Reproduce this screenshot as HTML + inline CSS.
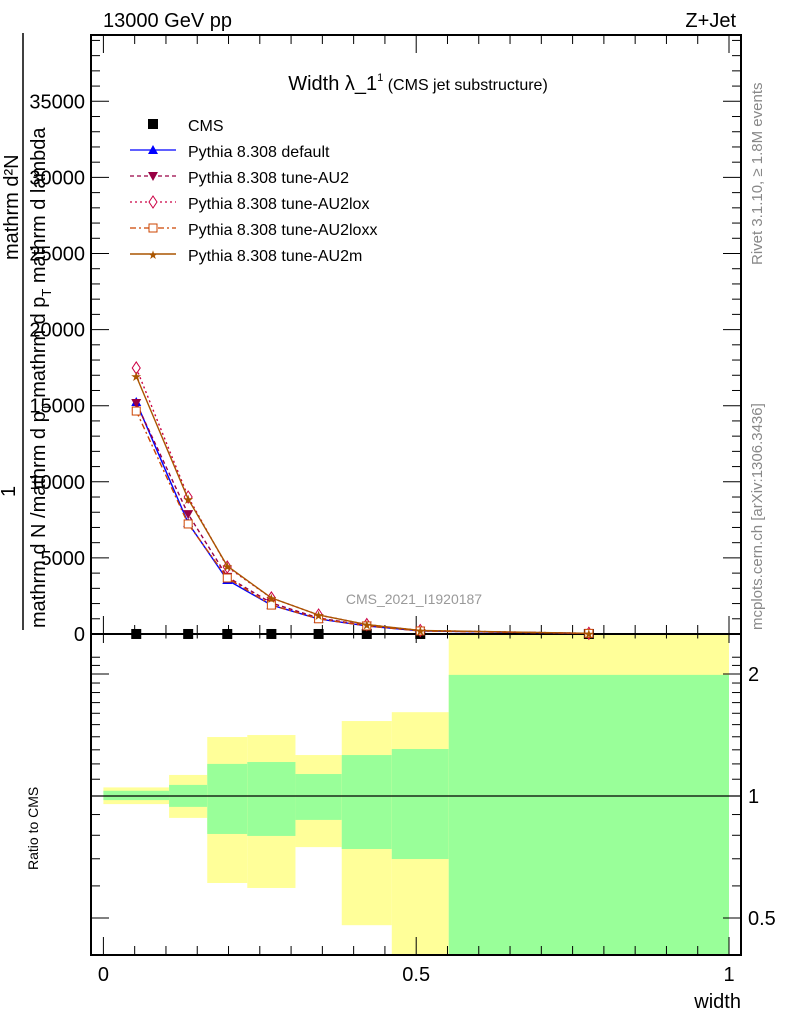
<!DOCTYPE html>
<html><head><meta charset="utf-8"><style>
body{margin:0;background:#fff;}
svg{display:block;font-family:"Liberation Sans",sans-serif;}
</style></head><body>
<svg id="chart" width="786" height="1024" viewBox="0 0 786 1024">
<g id="bands"></g>
<g id="grid"></g>
<g id="series"></g>
<text x="103" y="27" font-size="20">13000 GeV pp</text>
<text x="736" y="27" font-size="20" text-anchor="end">Z+Jet</text>
<text x="418" y="90" font-size="20" text-anchor="middle">Width λ_1<tspan font-size="11" dy="-9">1</tspan><tspan font-size="16" dy="9"> (CMS jet substructure)</tspan></text>
<text x="414" y="604" font-size="14" fill="#999" text-anchor="middle">CMS_2021_I1920187</text>
<text transform="translate(762,265) rotate(-90)" font-size="15" fill="#888">Rivet 3.1.10, ≥ 1.8M events</text>
<text transform="translate(762,630) rotate(-90)" font-size="15" fill="#888">mcplots.cern.ch [arXiv:1306.3436]</text>
<g>
<line x1="23" y1="33" x2="23" y2="630" stroke="#000" stroke-width="1.5"/>
<text transform="translate(18,260) rotate(-90)" font-size="20">mathrm d²N</text>
<text transform="translate(15,497) rotate(-90)" font-size="20">1</text>
<text transform="translate(45,628) rotate(-90)" font-size="20">mathrm d N /mathrm d p<tspan font-size="13" dy="6">T</tspan><tspan dy="-6"> mathrm d p</tspan><tspan font-size="13" dy="6">T</tspan><tspan dy="-6"> mathrm d lambda</tspan></text>
</g>
<text transform="translate(38,870) rotate(-90)" font-size="14">Ratio to CMS</text>
<text x="741" y="1008" font-size="20" text-anchor="end">width</text>
<g>
<rect x="148" y="119" width="10" height="10" fill="#000"/>
<text x="188" y="131" font-size="16">CMS</text>
<line x1="130" y1="150" x2="176" y2="150" stroke="#0000ff" stroke-width="1.3"/><path d="M148,154 L158,154 L153,145 Z" fill="#0000ff"/>
<text x="188" y="157" font-size="16">Pythia 8.308 default</text>
<line x1="130" y1="176" x2="176" y2="176" stroke="#990044" stroke-dasharray="4,3" stroke-width="1.3"/><path d="M148,172 L158,172 L153,181 Z" fill="#990044"/>
<text x="188" y="183" font-size="16">Pythia 8.308 tune-AU2</text>
<line x1="130" y1="202" x2="176" y2="202" stroke="#cc0044" stroke-dasharray="2,3" stroke-width="1.3"/><path d="M153,196 L157,202 L153,208 L149,202 Z" fill="#fff" stroke="#cc0044"/>
<text x="188" y="209" font-size="16">Pythia 8.308 tune-AU2lox</text>
<line x1="130" y1="228" x2="176" y2="228" stroke="#cc4400" stroke-dasharray="6,3,2,3" stroke-width="1.3"/><rect x="149" y="224" width="8" height="8" fill="#fff" stroke="#cc4400"/>
<text x="188" y="235" font-size="16">Pythia 8.308 tune-AU2loxx</text>
<line x1="130" y1="254" x2="176" y2="254" stroke="#aa5500" stroke-width="1.5"/><text x="153" y="259" font-size="12" fill="#aa5500" text-anchor="middle">★</text>
<text x="188" y="261" font-size="16">Pythia 8.308 tune-AU2m</text>
</g>
</svg>
<script>
const binEdges=[0,0.105,0.166,0.23,0.307,0.381,0.461,0.552,1.0];
const cmsValues=[1,1,1,1,1,1,1,1];
const defaultValues=[15240,7290,3550,1900,990,530,200,40];
const au2Values=[15180,7880,3750,2040,1050,560,210,40];
const au2loxValues=[17480,9000,4400,2370,1250,620,230,45];
const au2loxxValues=[14650,7230,3680,1900,1000,530,200,40];
const au2mValues=[16950,8870,4470,2370,1250,620,230,45];
const yellowHi=[1.05,1.127,1.398,1.414,1.262,1.531,1.61,5];
const yellowLo=[0.955,0.883,0.61,0.593,0.748,0.48,0.1,0.1];
const greenHi=[1.03,1.065,1.2,1.213,1.133,1.262,1.306,1.99];
const greenLo=[0.977,0.94,0.806,0.797,0.873,0.74,0.699,0.1];
const yTicks=[0,5000,10000,15000,20000,25000,30000,35000];
const xTicks=[0,0.5,1];
const rTicks=[0.5,1,2];

const NS='http://www.w3.org/2000/svg';
const L=91,R=741,T=35,MB=634,RB=955;
const X=v=>103.4+v*625.6;
const Y=v=>634-v*76.1/5000;
const RY=v=>Math.max(MB,Math.min(RB,796-Math.log2(v)*122));
function mk(tag,parent,attrs){const e=document.createElementNS(NS,tag);for(const k in attrs)e.setAttribute(k,attrs[k]);parent.appendChild(e);return e;}
const bands=document.getElementById('bands'),grid=document.getElementById('grid'),series=document.getElementById('series');

for(let i=0;i<binEdges.length-1;i++){
  const x0=X(binEdges[i]),x1=X(binEdges[i+1]);
  const y=mk('rect',bands,{x:x0,y:RY(yellowHi[i]),width:x1-x0,height:RY(yellowLo[i])-RY(yellowHi[i]),fill:'#ffff99'});
  
  
  const g=mk('rect',bands,{x:x0,y:RY(greenHi[i]),width:x1-x0,height:RY(greenLo[i])-RY(greenHi[i]),fill:'#99ff99'});
  
  
}
mk('line',grid,{x1:L,y1:796,x2:R,y2:796,stroke:'#000','stroke-width':1.2});
mk('rect',grid,{x:L,y:T,width:R-L,height:MB-T,fill:'none',stroke:'#000','stroke-width':2});
mk('rect',grid,{x:L,y:MB,width:R-L,height:RB-MB,fill:'none',stroke:'#000','stroke-width':2});
for(let v=0;v<=39000;v+=1000){const y=Y(v);if(y<T)break;const len=v%5000===0?18:9;
 mk('line',grid,{x1:L,y1:y,x2:L+len,y2:y,stroke:'#000'});mk('line',grid,{x1:R,y1:y,x2:R-len,y2:y,stroke:'#000'});}
yTicks.forEach(v=>{const t=mk('text',grid,{x:85,y:Y(v)+7,'font-size':20,'text-anchor':'end'});t.textContent=v;
 
 });
for(let v=0;v<=1.0001;v+=0.05){const x=X(v);const major=Math.abs(v*10-Math.round(v*10))<1e-6&&Math.round(v*10)%5===0;const len=major?18:9;
 mk('line',grid,{x1:x,y1:MB,x2:x,y2:MB-len,stroke:'#000'});mk('line',grid,{x1:x,y1:T,x2:x,y2:T+len,stroke:'#000'});
 mk('line',grid,{x1:x,y1:RB,x2:x,y2:RB-len,stroke:'#000'});mk('line',grid,{x1:x,y1:MB,x2:x,y2:MB+len/2,stroke:'#000'});}
xTicks.forEach(v=>{const t=mk('text',grid,{x:X(v),y:981,'font-size':20,'text-anchor':'middle'});t.textContent=v;
 
 });
[0.4,0.5,0.6,0.7,0.8,0.9,1,1.1,1.2,1.3,1.4,1.5,1.6,1.7,1.8,1.9,2,2.1,2.2].forEach(v=>{const y=RY(v);if(y<=MB+1||y>=RB)return;const len=rTicks.includes(v)?18:9;
 mk('line',grid,{x1:L,y1:y,x2:L+len,y2:y,stroke:'#000'});mk('line',grid,{x1:R,y1:y,x2:R-len,y2:y,stroke:'#000'});});
rTicks.forEach(v=>{const t=mk('text',grid,{x:748,y:RY(v)+7,'font-size':20});t.textContent=v;
 
 });

const centers=binEdges.slice(0,-1).map((e,i)=>(e+binEdges[i+1])/2);
function drawSeries(vals,color,dash,marker,name){
 const pts=vals.map((v,i)=>X(centers[i])+','+Y(v)).join(' ');
 const pl=mk('polyline',series,{points:pts,fill:'none',stroke:color,'stroke-width':1.4,'stroke-dasharray':dash});
 
 
 vals.forEach((v,i)=>{const x=X(centers[i]),y=Y(v);let m;
  if(marker==='up')m=mk('path',series,{d:`M${x-5},${y+4}L${x+5},${y+4}L${x},${y-5}Z`,fill:color});
  else if(marker==='down')m=mk('path',series,{d:`M${x-5},${y-4}L${x+5},${y-4}L${x},${y+5}Z`,fill:color});
  else if(marker==='diamond')m=mk('path',series,{d:`M${x},${y-6}L${x+4},${y}L${x},${y+6}L${x-4},${y}Z`,fill:'#fff',stroke:color});
  else if(marker==='square')m=mk('rect',series,{x:x-4,y:y-4,width:8,height:8,fill:'#fff',stroke:color});
  else {m=mk('text',series,{x:x,y:y+5,'font-size':13,fill:color,'text-anchor':'middle'});m.textContent='★';}
  
  });
}
cmsValues.forEach((v,i)=>{const r=mk('rect',series,{x:X(centers[i])-5,y:Y(v)-5,width:10,height:10,fill:'#000'});
 
 });
drawSeries(defaultValues,'#0000ff','none','up','default');
drawSeries(au2Values,'#990044','4,3','down','au2');
drawSeries(au2loxValues,'#cc0044','2,3','diamond','au2lox');
drawSeries(au2loxxValues,'#cc4400','6,3,2,3','square','au2loxx');
drawSeries(au2mValues,'#aa5500','none','star','au2m');
</script>
</body></html>
